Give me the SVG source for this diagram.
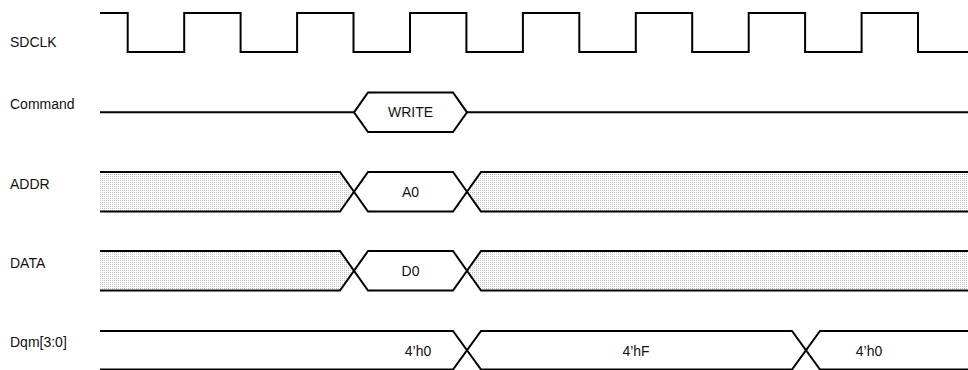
<svg xmlns="http://www.w3.org/2000/svg" width="968" height="370" viewBox="0 0 968 370">
<style>
.lbl{font-family:"Liberation Sans",Arial,sans-serif;font-size:14px;fill:#111}
.val{font-family:"Liberation Sans",Arial,sans-serif;font-size:14px;fill:#111;text-anchor:middle}
.w{fill:none;stroke:#000;stroke-width:2;stroke-linejoin:miter}
.hatch{fill:url(#dots);stroke:none}
</style>
<defs>
<pattern id="dots" width="2" height="2" patternUnits="userSpaceOnUse">
<rect width="2" height="2" fill="#ffffff"/>
<rect width="1" height="1" fill="#c4c4c4"/>
</pattern>
</defs>
<rect width="968" height="370" fill="#fff"/>
<g id="labels">
<text class="lbl" x="10" y="47">SDCLK</text>
<text class="lbl" x="10" y="109">Command</text>
<text class="lbl" x="10" y="189">ADDR</text>
<text class="lbl" x="10" y="268">DATA</text>
<text class="lbl" x="10" y="347">Dqm[3:0]</text>
</g>
<g id="connectors">
<g id="sdclk">
<path class="w" d="M100,13 H127.7 V52 H184.2 V13 H240.6 V52 H297.1 V13 H353.5 V52 H410 V13 H466.4 V52 H522.9 V13 H579.3 V52 H635.8 V13 H692.2 V52 H748.7 V13 H805.1 V52 H861.6 V13 H918 V52 H968"/>
</g>
<g id="command">
<path class="w" d="M100,112.3 H354 M467,112.3 H968"/>
<path class="w" d="M354,112.3 L368,92.5 H453 L467,112.3 L453,132 H368 Z"/>
<text class="val" x="410.5" y="117">WRITE</text>
</g>
<g id="addr">
<polygon class="hatch" points="100,172 340,172 354,191.8 340,211.5 100,211.5"/>
<polygon class="hatch" points="481,172 968,172 968,211.5 481,211.5 467,191.8"/>
<path class="w" d="M100,172 H340 L368,211.5 H453 L481,172 H968"/>
<path class="w" d="M100,211.5 H340 L368,172 H453 L481,211.5 H968"/>
<text class="val" x="410.5" y="197">A0</text>
</g>
<g id="data">
<polygon class="hatch" points="100,251 340,251 354,270.8 340,290.5 100,290.5"/>
<polygon class="hatch" points="481,251 968,251 968,290.5 481,290.5 467,270.8"/>
<path class="w" d="M100,251 H340 L368,290.5 H453 L481,251 H968"/>
<path class="w" d="M100,290.5 H340 L368,251 H453 L481,290.5 H968"/>
<text class="val" x="410.5" y="276">D0</text>
</g>
<g id="dqm">
<path class="w" d="M100,331 H453 L481,369.5 H792 L820,331 H968"/>
<path class="w" d="M100,369.5 H453 L481,331 H792 L820,369.5 H968"/>
<text class="val" x="418" y="356">4’h0</text>
<text class="val" x="636" y="356">4’hF</text>
<text class="val" x="869" y="356">4’h0</text>
</g>
</g>
</svg>
